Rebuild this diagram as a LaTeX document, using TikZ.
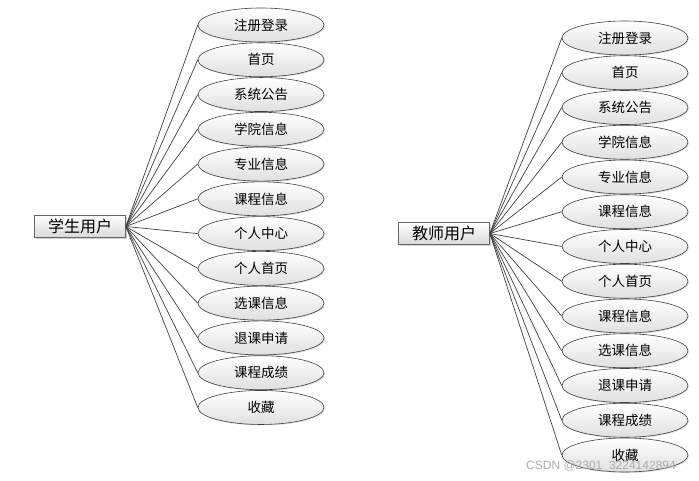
\documentclass[tikz,border=0pt]{standalone}
\usepackage{fontspec}
\newfontfamily\cjk{Noto Sans CJK SC}
\setsansfont{Liberation Sans}
\usetikzlibrary{shapes.geometric,shadows}

\begin{document}
\begin{tikzpicture}[x=1pt, y=-1pt, every node/.style={font=\cjk}]

% estilos
\tikzset{
    usuario/.style={draw=black!60, line width=0.7pt, rectangle, minimum width=91pt, minimum height=22pt,
        inner sep=0pt, top color=white, bottom color=gray!30, font=\cjk\fontsize{16}{16}\selectfont,
        drop shadow={opacity=0.35, shadow xshift=1.2pt, shadow yshift=-1.2pt}},
    funcion/.style={draw=black!75, line width=0.6pt, ellipse, minimum width=126pt, minimum height=34pt,
        inner sep=0pt, top color=white, bottom color=gray!25, font=\cjk\fontsize{13.5}{14}\selectfont,
        drop shadow={opacity=0.25, shadow xshift=1pt, shadow yshift=-1pt}},
    enlace/.style={draw=black!75, line width=0.7pt}
}

\useasboundingbox (0,0) rectangle (699,481);

% =============================================
% IZQUIERDA: 学生用户
% =============================================
\node[usuario] (estudiante) at (80,226.5) {学生用户};

\foreach \lbl [count=\i] in {注册登录,首页,系统公告,学院信息,专业信息,课程信息,个人中心,个人首页,选课信息,退课申请,课程成绩,收藏} {
    \node[funcion] (est\i) at (261, {25+(\i-1)*34.77}) {\lbl};
    \draw[enlace] (estudiante.east) -- (est\i.west);
}

% =============================================
% DERECHA: 教师用户
% =============================================
\node[usuario] (profesor) at (444,233.5) {教师用户};

\foreach \lbl [count=\i] in {注册登录,首页,系统公告,学院信息,专业信息,课程信息,个人中心,个人首页,课程信息,选课信息,退课申请,课程成绩,收藏} {
    \node[funcion] (prof\i) at (625, {38+(\i-1)*34.75}) {\lbl};
    \draw[enlace] (profesor.east) -- (prof\i.west);
}

% marca de agua
\node[font=\sffamily\fontsize{12}{12}\selectfont, text=gray!65] (marca) at (601,466.5) {CSDN @2301\_3224142894};

\end{tikzpicture}
\end{document}
